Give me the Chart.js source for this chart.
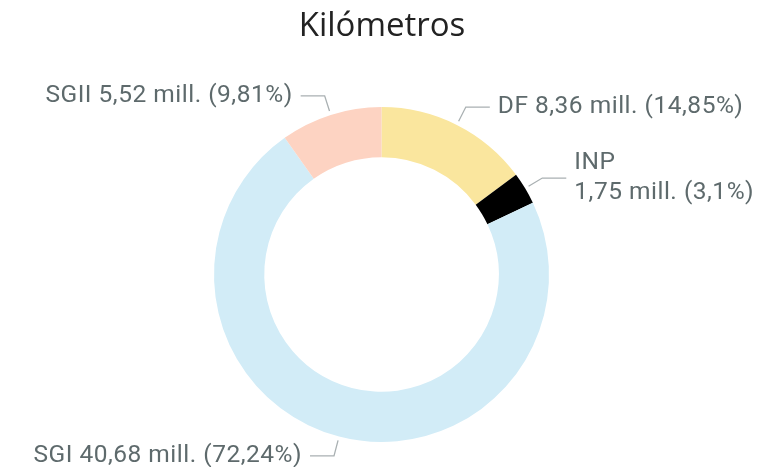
<!DOCTYPE html>
<html>
<head>
<meta charset="utf-8">
<script src="https://cdn.jsdelivr.net/npm/chart.js@4/dist/chart.umd.min.js"></script>
<style>
  html, body { margin: 0; padding: 0; background: #fff; }
  #wrap { width: 761px; height: 467px; }
</style>
</head>
<body>
<div id="wrap"><canvas id="myChart"></canvas></div>
<script>
const categories = ['DF', 'INP', 'SGI', 'SGII'];
const kms = [8.36, 1.75, 40.68, 5.52];          // millones
const percents = [14.85, 3.1, 72.24, 9.81];
const colors = ['#FAE69E', '#000000', '#D2ECF7', '#FDD3C2'];
const titleText = 'Kilómetros';

const fmt = v => String(v).replace('.', ',');

// labels with leader lines, like the Power BI donut
const outerLabels = {
  id: 'outerLabels',
  afterDraw(chart) {
    const ctx = chart.ctx;
    const meta = chart.getDatasetMeta(0);
    ctx.save();
    // title
    ctx.font = '33px "Open Sans"';
    ctx.fillStyle = '#222';
    ctx.textAlign = 'center';
    ctx.textBaseline = 'middle';
    ctx.fillText(titleText, 382, 27);

    ctx.font = '24.5px Roboto';
    ctx.letterSpacing = '0.5px';
    meta.data.forEach((arc, i) => {
      const mid = (arc.startAngle + arc.endAngle) / 2;
      const cx = arc.x, cy = arc.y;
      const r0 = arc.outerRadius + 4, r1 = arc.outerRadius + 20;
      const sx = cx + Math.cos(mid) * r0, sy = cy + Math.sin(mid) * r0;
      const ex = cx + Math.cos(mid) * r1, ey = cy + Math.sin(mid) * r1;
      const right = Math.cos(mid) >= 0;
      const hx = ex + (right ? 24 : -24);
      ctx.strokeStyle = '#A9B0B2';
      ctx.lineWidth = 1.3;
      ctx.beginPath();
      ctx.moveTo(sx, sy);
      ctx.lineTo(ex, ey);
      ctx.lineTo(hx, ey);
      ctx.stroke();

      const valTxt = fmt(kms[i]) + ' mill. (' + fmt(percents[i]) + '%)';
      let lines = [categories[i] + ' ' + valTxt];
      const tx = hx + (right ? 8 : -8);
      if (right && tx + ctx.measureText(lines[0]).width > chart.width - 4) {
        lines = [categories[i], valTxt];
      }
      ctx.fillStyle = '#5E6A6C';
      ctx.textAlign = right ? 'left' : 'right';
      const lh = 30;
      lines.forEach((ln, k) => {
        ctx.fillText(ln, tx, ey + (k - (lines.length - 1) / 2) * lh);
      });
    });
    ctx.restore();
  }
};

new Chart(document.getElementById('myChart'), {
  type: 'doughnut',
  data: {
    labels: categories,
    datasets: [{
      data: kms,
      backgroundColor: colors,
      borderWidth: 0
    }]
  },
  options: {
    responsive: true,
    maintainAspectRatio: false,
    animation: false,
    cutout: '70%',
    layout: { padding: { top: 107, bottom: 25, left: 2 } },
    plugins: {
      legend: { display: false },
      tooltip: { enabled: false },
      title: { display: false }
    }
  },
  plugins: [outerLabels]
});
</script>
</body>
</html>
